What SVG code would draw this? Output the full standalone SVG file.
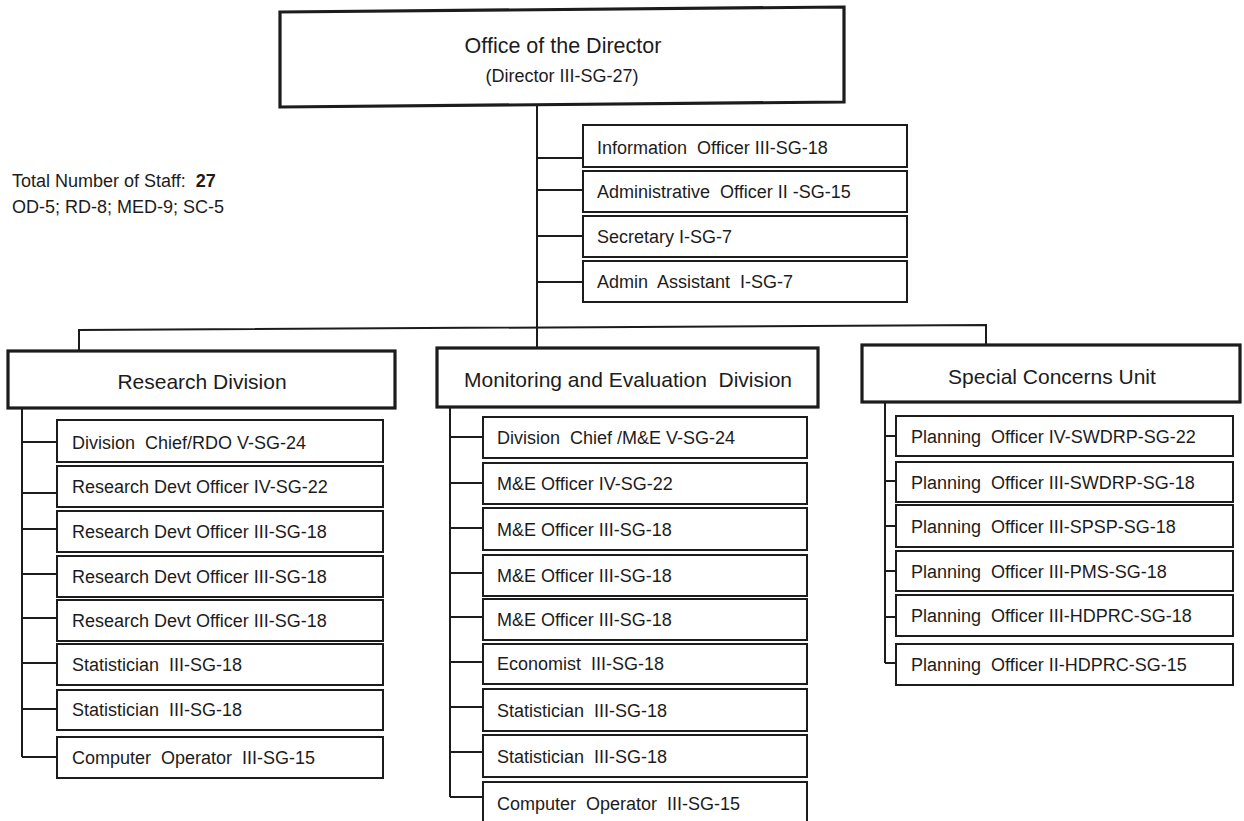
<svg xmlns="http://www.w3.org/2000/svg" width="1244" height="821" viewBox="0 0 1244 821">
<style>
.box{fill:#fff;stroke:#1c1c1c;stroke-width:2}
.hbox{fill:#fff;stroke:#1c1c1c;stroke-width:3.2}
.ln{fill:none;stroke:#1c1c1c;stroke-width:2}
.t{font-family:"Liberation Sans",Arial,sans-serif;font-size:18px;fill:#1c1c1c;white-space:pre}
.h{font-family:"Liberation Sans",Arial,sans-serif;font-size:21px;fill:#1c1c1c;text-anchor:middle;white-space:pre}
</style>
<rect width="1244" height="821" fill="#fff"/>
<g id="connectors">
<path class="ln" d="M537,105 V328"/>
<path class="ln" d="M79,351 V330 L986,325 V345"/>
<path class="ln" d="M537,328 V348"/>
<path class="ln" d="M537,158 H583 M537,190 H583 M537,236 H583 M537,282 H583"/>
<path class="ln" d="M22,408 V757 M22,442 H57 M22,493 H57 M22,529 H57 M22,574 H57 M22,618 H57 M22,663 H57 M22,709 H57 M22,757 H57"/>
<path class="ln" d="M450,407 V797 M450,437 H483 M450,483 H483 M450,528 H483 M450,573 H483 M450,617 H483 M450,662 H483 M450,707 H483 M450,752 H483 M450,797 H483"/>
<path class="ln" d="M885,402 V663 M885,436 H896 M885,481 H896 M885,526 H896 M885,571 H896 M885,617 H896 M885,663 H896"/>
</g>
<g id="director">
<polygon class="hbox" points="280,12 844,7 844,102 280,107"/>
<text class="h" x="563" y="53" style="font-size:21.5px">Office of the Director</text>
<text class="h" x="562" y="82" style="font-size:18px">(Director III-SG-27)</text>
</g>
<g id="staff-total">
<text class="t" x="12" y="187">Total Number of Staff:  <tspan font-weight="bold">27</tspan></text>
<text class="t" x="12" y="213">OD-5; RD-8; MED-9; SC-5</text>
</g>
<g id="office-staff">
<rect class="box" x="583" y="125" width="324" height="42"/><text class="t" x="597" y="154">Information  Officer III-SG-18</text>
<rect class="box" x="583" y="171" width="324" height="41"/><text class="t" x="597" y="198">Administrative  Officer II -SG-15</text>
<rect class="box" x="583" y="216" width="324" height="41"/><text class="t" x="597" y="243">Secretary I-SG-7</text>
<rect class="box" x="583" y="261" width="324" height="41"/><text class="t" x="597" y="288">Admin  Assistant  I-SG-7</text>
</g>
<g id="research-division">
<rect class="hbox" x="8" y="351" width="387" height="57"/>
<text class="h" x="202" y="389">Research Division</text>
</g>
<g id="research-staff">
<rect class="box" x="57" y="420" width="326" height="42"/><text class="t" x="72" y="449">Division  Chief/RDO V-SG-24</text>
<rect class="box" x="57" y="466" width="326" height="41"/><text class="t" x="72" y="493">Research Devt Officer IV-SG-22</text>
<rect class="box" x="57" y="511" width="326" height="41"/><text class="t" x="72" y="538">Research Devt Officer III-SG-18</text>
<rect class="box" x="57" y="556" width="326" height="41"/><text class="t" x="72" y="583">Research Devt Officer III-SG-18</text>
<rect class="box" x="57" y="600" width="326" height="41"/><text class="t" x="72" y="627">Research Devt Officer III-SG-18</text>
<rect class="box" x="57" y="644" width="326" height="41"/><text class="t" x="72" y="671">Statistician  III-SG-18</text>
<rect class="box" x="57" y="690" width="326" height="40"/><text class="t" x="72" y="716">Statistician  III-SG-18</text>
<rect class="box" x="57" y="737" width="326" height="41"/><text class="t" x="72" y="764">Computer  Operator  III-SG-15</text>
</g>
<g id="me-division">
<rect class="hbox" x="437" y="348" width="381" height="59"/>
<text class="h" x="628" y="387">Monitoring and Evaluation  Division</text>
</g>
<g id="me-staff">
<rect class="box" x="483" y="417" width="324" height="41"/><text class="t" x="497" y="444">Division  Chief /M&amp;E V-SG-24</text>
<rect class="box" x="483" y="463" width="324" height="41"/><text class="t" x="497" y="490">M&amp;E Officer IV-SG-22</text>
<rect class="box" x="483" y="508" width="324" height="42"/><text class="t" x="497" y="536">M&amp;E Officer III-SG-18</text>
<rect class="box" x="483" y="555" width="324" height="41"/><text class="t" x="497" y="582">M&amp;E Officer III-SG-18</text>
<rect class="box" x="483" y="599" width="324" height="41"/><text class="t" x="497" y="626">M&amp;E Officer III-SG-18</text>
<rect class="box" x="483" y="644" width="324" height="40"/><text class="t" x="497" y="670">Economist  III-SG-18</text>
<rect class="box" x="483" y="689" width="324" height="42"/><text class="t" x="497" y="717">Statistician  III-SG-18</text>
<rect class="box" x="483" y="735" width="324" height="42"/><text class="t" x="497" y="763">Statistician  III-SG-18</text>
<rect class="box" x="483" y="782" width="324" height="42"/><text class="t" x="497" y="810">Computer  Operator  III-SG-15</text>
</g>
<g id="special-concerns-unit">
<rect class="hbox" x="862" y="345" width="378" height="57"/>
<text class="h" x="1052" y="384">Special Concerns Unit</text>
</g>
<g id="scu-staff">
<rect class="box" x="896" y="416" width="337" height="40"/><text class="t" x="911" y="443">Planning  Officer IV-SWDRP-SG-22</text>
<rect class="box" x="896" y="462" width="337" height="40"/><text class="t" x="911" y="489">Planning  Officer III-SWDRP-SG-18</text>
<rect class="box" x="896" y="505" width="337" height="42"/><text class="t" x="911" y="533">Planning  Officer III-SPSP-SG-18</text>
<rect class="box" x="896" y="551" width="337" height="40"/><text class="t" x="911" y="578">Planning  Officer III-PMS-SG-18</text>
<rect class="box" x="896" y="595" width="337" height="41"/><text class="t" x="911" y="622">Planning  Officer III-HDPRC-SG-18</text>
<rect class="box" x="896" y="644" width="337" height="41"/><text class="t" x="911" y="671">Planning  Officer II-HDPRC-SG-15</text>
</g>
</svg>
